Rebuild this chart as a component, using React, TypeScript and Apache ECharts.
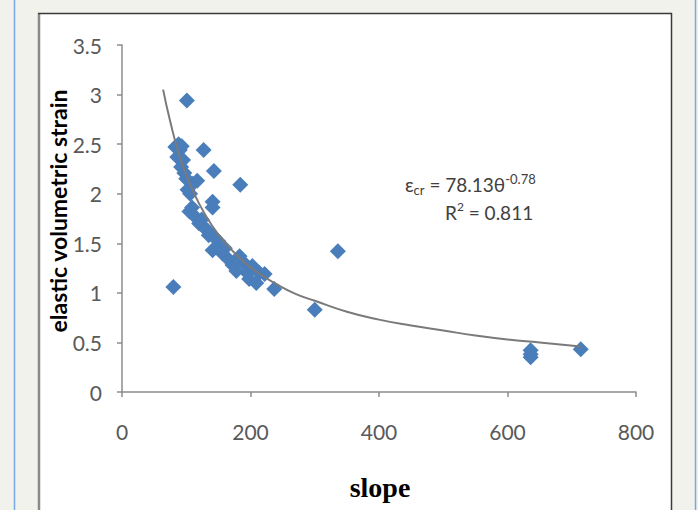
import React, { useEffect, useRef } from "react";
import * as echarts from "echarts";

// Scatter data: slope (x) vs elastic volumetric strain (y)
const pointsX = [101, 80, 300, 336, 184, 143, 127, 83, 88, 93, 90, 86, 92, 97, 117, 102, 110, 141, 141, 105, 109, 120, 128, 133, 144, 150, 141, 155, 156, 167, 183, 178, 172, 203, 214, 198, 209, 222, 237, 95, 100, 106, 112, 124, 135, 160, 190, 195, 636, 636, 636, 714];
const pointsY = [2.94, 1.06, 0.83, 1.42, 2.09, 2.23, 2.44, 2.47, 2.5, 2.48, 2.44, 2.37, 2.27, 2.21, 2.13, 2.04, 2.1, 1.92, 1.86, 1.82, 1.86, 1.7, 1.66, 1.63, 1.56, 1.52, 1.43, 1.46, 1.4, 1.33, 1.37, 1.22, 1.28, 1.27, 1.2, 1.14, 1.1, 1.19, 1.04, 2.34, 2.15, 2.0, 1.78, 1.74, 1.58, 1.45, 1.3, 1.2, 0.42, 0.38, 0.35, 0.43];

// Power trendline
const trendX = [64, 75, 90, 105, 120, 140, 160, 185, 210, 240, 270, 300, 350, 400, 450, 500, 550, 600, 650, 714];
const trendY = [3.05, 2.73, 2.37, 2.11, 1.9, 1.68, 1.51, 1.34, 1.21, 1.09, 0.99, 0.92, 0.81, 0.73, 0.67, 0.62, 0.57, 0.53, 0.5, 0.46];

const xTicks = [0, 200, 400, 600, 800];
const yTicks = [0, 0.5, 1, 1.5, 2, 2.5, 3, 3.5];

export default function App() {
  const ref = useRef<HTMLDivElement>(null);
  useEffect(() => {
    if (!ref.current) return;
    const chart = echarts.init(ref.current, null, { renderer: "svg" });
    const axisColor = "#8c8c8c";
    const labelFont = { fontFamily: "Lato", fontSize: 21, color: "#595959" };
    chart.setOption({
      animation: false,
      backgroundColor: "#f2f2ec",
      grid: { left: 122, right: 62, top: 45, bottom: 118 },
      xAxis: {
        type: "value",
        min: xTicks[0],
        max: xTicks[xTicks.length - 1],
        interval: 200,
        splitLine: { show: false },
        axisLine: { show: true, lineStyle: { color: axisColor, width: 1.5 } },
        axisTick: { show: true, length: 5, lineStyle: { color: axisColor, width: 1.5 } },
        axisLabel: { ...labelFont, margin: 29 },
      },
      yAxis: {
        type: "value",
        min: yTicks[0],
        max: yTicks[yTicks.length - 1],
        interval: 0.5,
        splitLine: { show: false },
        axisLine: { show: true, lineStyle: { color: axisColor, width: 1.5 } },
        axisTick: { show: true, length: 5, lineStyle: { color: axisColor, width: 1.5 } },
        axisLabel: { ...labelFont, margin: 20 },
      },
      graphic: [
        { type: "rect", z: -10, shape: { x: 38, y: 13, width: 634, height: 520 }, style: { fill: "#ffffff" } },
        { type: "line", z: -9, shape: { x1: 39, y1: 13, x2: 39, y2: 520 }, style: { stroke: "#8a8a8a", lineWidth: 2.5 } },
        { type: "line", z: -9, shape: { x1: 38, y1: 13.5, x2: 672, y2: 13.5 }, style: { stroke: "#3a3a3a", lineWidth: 1.5 } },
        { type: "line", z: -9, shape: { x1: 671.5, y1: 13, x2: 671.5, y2: 520 }, style: { stroke: "#3a3a3a", lineWidth: 1.5 } },
        { type: "line", z: -9, shape: { x1: 14.5, y1: 0, x2: 14.5, y2: 510 }, style: { stroke: "#7aa6e6", lineWidth: 1.5 } },
        { type: "line", z: -9, shape: { x1: 695.5, y1: 0, x2: 695.5, y2: 510 }, style: { stroke: "#7aa6e6", lineWidth: 1.5 } },
        {
          type: "text",
          x: 58,
          y: 211,
          rotation: Math.PI / 2,
          style: {
            text: "elastic volumetric strain",
            fontFamily: "Lato",
            fontWeight: "bold",
            fontSize: 23,
            fill: "#000000",
            align: "center",
            verticalAlign: "middle",
          },
        },
        {
          type: "text",
          x: 380,
          y: 487,
          style: {
            text: "slope",
            fontFamily: "Liberation Serif",
            fontWeight: "bold",
            fontSize: 28,
            fill: "#000000",
            align: "center",
            verticalAlign: "middle",
          },
        },
        {
          type: "text",
          x: 405,
          y: 184,
          style: {
            text: "{m|ε}{sub|cr}{m| = 78.13θ}{sup|-0.78}",
            align: "left",
            verticalAlign: "middle",
            rich: {
              m: { fontFamily: "Lato", fontSize: 19, fill: "#404040", lineHeight: 24, verticalAlign: "middle" },
              sub: { fontFamily: "Lato", fontSize: 13, fill: "#404040", lineHeight: 24, verticalAlign: "bottom" },
              sup: { fontFamily: "Lato", fontSize: 13, fill: "#404040", lineHeight: 24, verticalAlign: "top" },
            },
          },
        },
        {
          type: "text",
          x: 445,
          y: 212,
          style: {
            text: "{m|R}{sup|2}{m| = 0.811}",
            align: "left",
            verticalAlign: "middle",
            rich: {
              m: { fontFamily: "Lato", fontSize: 19, fill: "#404040", lineHeight: 24, verticalAlign: "middle" },
              sup: { fontFamily: "Lato", fontSize: 12, fill: "#404040", lineHeight: 24, verticalAlign: "top" },
            },
          },
        },
      ],
      series: [
        {
          type: "line",
          data: trendX.map((x, i) => [x, trendY[i]]),
          smooth: true,
          showSymbol: false,
          symbol: "none",
          lineStyle: { color: "#7a7a7a", width: 2 },
          z: 3,
        },
        {
          type: "scatter",
          data: pointsX.map((x, i) => [x, pointsY[i]]),
          symbol: "diamond",
          symbolSize: 16,
          itemStyle: { color: "#4a7ebb", opacity: 1 },
          z: 2,
        },
      ],
    });
    return () => chart.dispose();
  }, []);
  return (
    <div
      ref={ref}
      style={{ position: "fixed", left: 0, top: 0, width: 698, height: 510 }}
    />
  );
}
